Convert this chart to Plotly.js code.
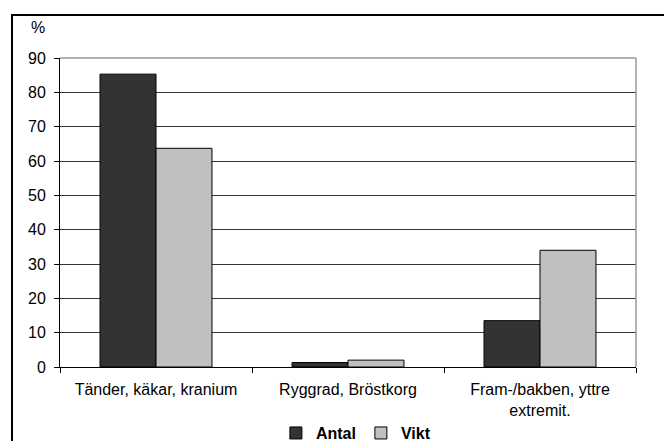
<!DOCTYPE html>
<html>
<head>
<meta charset="utf-8">
<script src="https://cdn.plot.ly/plotly-3.0.1.min.js"></script>
<style>
html,body{margin:0;padding:0;background:#fff;overflow:hidden;}
#wrap{position:relative;width:664px;height:441px;overflow:hidden;}
#chart{width:664px;height:441px;}
#frame{position:absolute;left:11px;top:14px;width:700px;height:500px;border:2px solid #000;pointer-events:none;}
</style>
</head>
<body>
<div id="wrap"><div id="chart"></div><div id="frame"></div></div>
<script>
var categories = ["Tänder, käkar, kranium", "Ryggrad, Bröstkorg", "Fram-/bakben, yttre<br>extremit."];
var antal = [85.3, 1.3, 13.5];
var vikt = [63.7, 2.0, 34.0];
var seriesNames = ["Antal", "Vikt"];
var yTicks = [0, 10, 20, 30, 40, 50, 60, 70, 80, 90];

var font = {family: "Liberation Sans, Arial, sans-serif", size: 16, color: "#000"};

var traces = [
  {type: "bar", name: seriesNames[0], x: categories, y: antal,
   marker: {color: "#333333", line: {color: "#000", width: 1}}},
  {type: "bar", name: seriesNames[1], x: categories, y: vikt,
   marker: {color: "#c0c0c0", line: {color: "#000", width: 1}}}
];

var layout = {
  width: 664, height: 441,
  margin: {l: 60, r: 28, t: 58, b: 74},
  paper_bgcolor: "#fff", plot_bgcolor: "#fff",
  font: font,
  barmode: "group", bargap: 0.417, bargroupgap: 0,
  showlegend: true,
  legend: {orientation: "h", xref: "container", yref: "container", x: 0.536, xanchor: "center",
           y: 0.018, yanchor: "middle",
           font: {family: "Liberation Sans, Arial, sans-serif", size: 16, color: "#000", weight: "bold"},
           itemwidth: 30, traceorder: "normal", bgcolor: "rgba(0,0,0,0)"},
  xaxis: {type: "category", tickson: "boundaries", ticks: "outside", ticklen: 5, tickcolor: "#000",
          showline: true, linecolor: "#000", linewidth: 1, showgrid: false, zeroline: false,
          tickfont: font, automargin: false, ticklabelstandoff: 8},
  yaxis: {range: [0, 90], tickvals: yTicks, ticks: "outside", ticklen: 5, tickcolor: "#000",
          showline: true, linecolor: "#000", linewidth: 1, showgrid: true, gridcolor: "#333",
          gridwidth: 1, zeroline: false, tickfont: font, automargin: false, ticklabelstandoff: 5},
  shapes: [
    {type: "line", xref: "paper", yref: "paper", x0: 0, x1: 1, y0: 1, y1: 1, line: {color: "#999", width: 1.5}},
    {type: "line", xref: "paper", yref: "paper", x0: 1, x1: 1, y0: 0, y1: 1, line: {color: "#999", width: 1.5}}
  ],
  annotations: [
    {text: "%", xref: "paper", yref: "paper", x: (38 - 60) / 576, y: (367 - 27.5) / 309, showarrow: false,
     xanchor: "center", yanchor: "middle", font: font}
  ]
};

Plotly.newPlot("chart", traces, layout, {displayModeBar: false, staticPlot: true});
</script>
</body>
</html>
